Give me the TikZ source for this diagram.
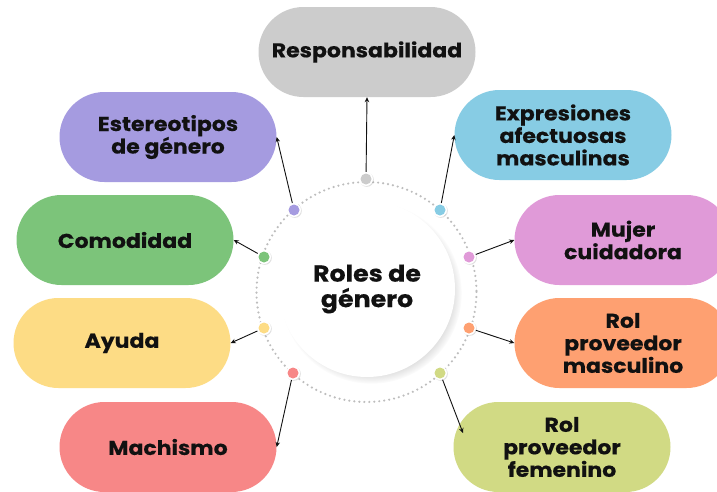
\documentclass[tikz,border=0pt]{standalone}
\usepackage{fontspec}
\setmainfont{Poppins}[BoldFeatures={FakeStretch=1.1, FakeBold=0.4}]
\usetikzlibrary{arrows.meta,shadows}
\definecolor{cgray}{HTML}{CCCCCC}
\definecolor{cpurple}{HTML}{A59BE0}
\definecolor{cblue}{HTML}{87CCE4}
\definecolor{cgreen}{HTML}{7CC47A}
\definecolor{cpink}{HTML}{E09AD8}
\definecolor{cyellow}{HTML}{FDDC85}
\definecolor{corange}{HTML}{FEA071}
\definecolor{cred}{HTML}{F78787}
\definecolor{clime}{HTML}{D1DA84}
\definecolor{ctext}{HTML}{111111}
\definecolor{cring}{HTML}{BDBDBD}
\begin{document}
\begin{tikzpicture}[x=1pt,y=-1pt,
  pill/.style={rectangle, rounded corners=45pt, minimum width=217pt, minimum height=90pt,
    inner sep=0pt, align=center, text=ctext,
    font=\fontsize{20}{22.5}\selectfont\bfseries},
  dotring/.style={circle, fill=white, minimum size=14pt, inner sep=0pt,
    drop shadow={opacity=0.25, shadow xshift=0.8pt, shadow yshift=-0.8pt}},
  con/.style={draw=ctext, line width=0.9pt, -{Stealth[length=5pt,width=4.5pt]}}
]
\useasboundingbox (0,0) rectangle (717,491);
\fill[white] (0,0) rectangle (717,491);

% boxes
\node[pill, fill=cgray]   (resp)    at (367,52)  {Responsabilidad};
\node[pill, fill=cpurple] (estereo) at (168,137) {Estereotipos\\de género};
\node[pill, fill=cgreen]  (comod)   at (125,240) {Comodidad};
\node[pill, fill=cyellow] (ayuda)   at (122,343) {Ayuda};
\node[pill, fill=cred]    (mach)    at (168,447) {Machismo};
\node[pill, fill=cblue]   (expr)    at (563,135) {Expresiones\\afectuosas\\masculinas};
\node[pill, fill=cpink]   (mujer)   at (623,240) {Mujer\\cuidadora};
\node[pill, fill=corange] (masc)    at (623,343) {Rol\\proveedor\\masculino};
\node[pill, fill=clime]   (fem)     at (562,447) {Rol\\proveedor\\femenino};

% dotted ring
\draw[color=cring, line width=2.4pt, dash pattern=on 0pt off 5pt, line cap=round]
  (366.5,292) circle (110);

% center disc
\node[circle, fill=white, minimum size=176pt, inner sep=0pt, align=center, text=ctext,
  font=\fontsize{23}{25.5}\selectfont\bfseries,
  circular drop shadow={shadow xshift=4pt, shadow yshift=-4pt, shadow scale=1.03, opacity=0.35}]
  (center) at (367,289) {Roles de\\género};

% dots
\node[dotring] (dg)  at (366,179) {};
\node[dotring] (dp)  at (294,210) {};
\node[dotring] (db)  at (440,210) {};
\node[dotring] (dgr) at (264,257) {};
\node[dotring] (dpk) at (469,257) {};
\node[dotring] (dy)  at (264,328) {};
\node[dotring] (do)  at (469,328) {};
\node[dotring] (dr)  at (293,373) {};
\node[dotring] (dl)  at (440,373) {};
\fill[cgray]   (dg)  circle (5.5pt);
\fill[cpurple] (dp)  circle (5.5pt);
\fill[cblue]   (db)  circle (5.5pt);
\fill[cgreen]  (dgr) circle (5.5pt);
\fill[cpink]   (dpk) circle (5.5pt);
\fill[cyellow] (dy)  circle (5.5pt);
\fill[corange] (do)  circle (5.5pt);
\fill[cred]    (dr)  circle (5.5pt);
\fill[clime]   (dl)  circle (5.5pt);

% connectors
\coordinate (femtip) at (463,433);
\draw[con] (dg)  -- (resp.south);
\draw[con] (dp)  -- (estereo.east);
\draw[con] (dgr) -- (comod.east);
\draw[con] (dy)  -- (ayuda.east);
\draw[con] (dr)  -- (mach.east);
\draw[con] (db)  -- (expr.west);
\draw[con] (dpk) -- (mujer.west);
\draw[con] (do)  -- (masc.west);
\draw[con] (dl)  -- (femtip);
\end{tikzpicture}
\end{document}
